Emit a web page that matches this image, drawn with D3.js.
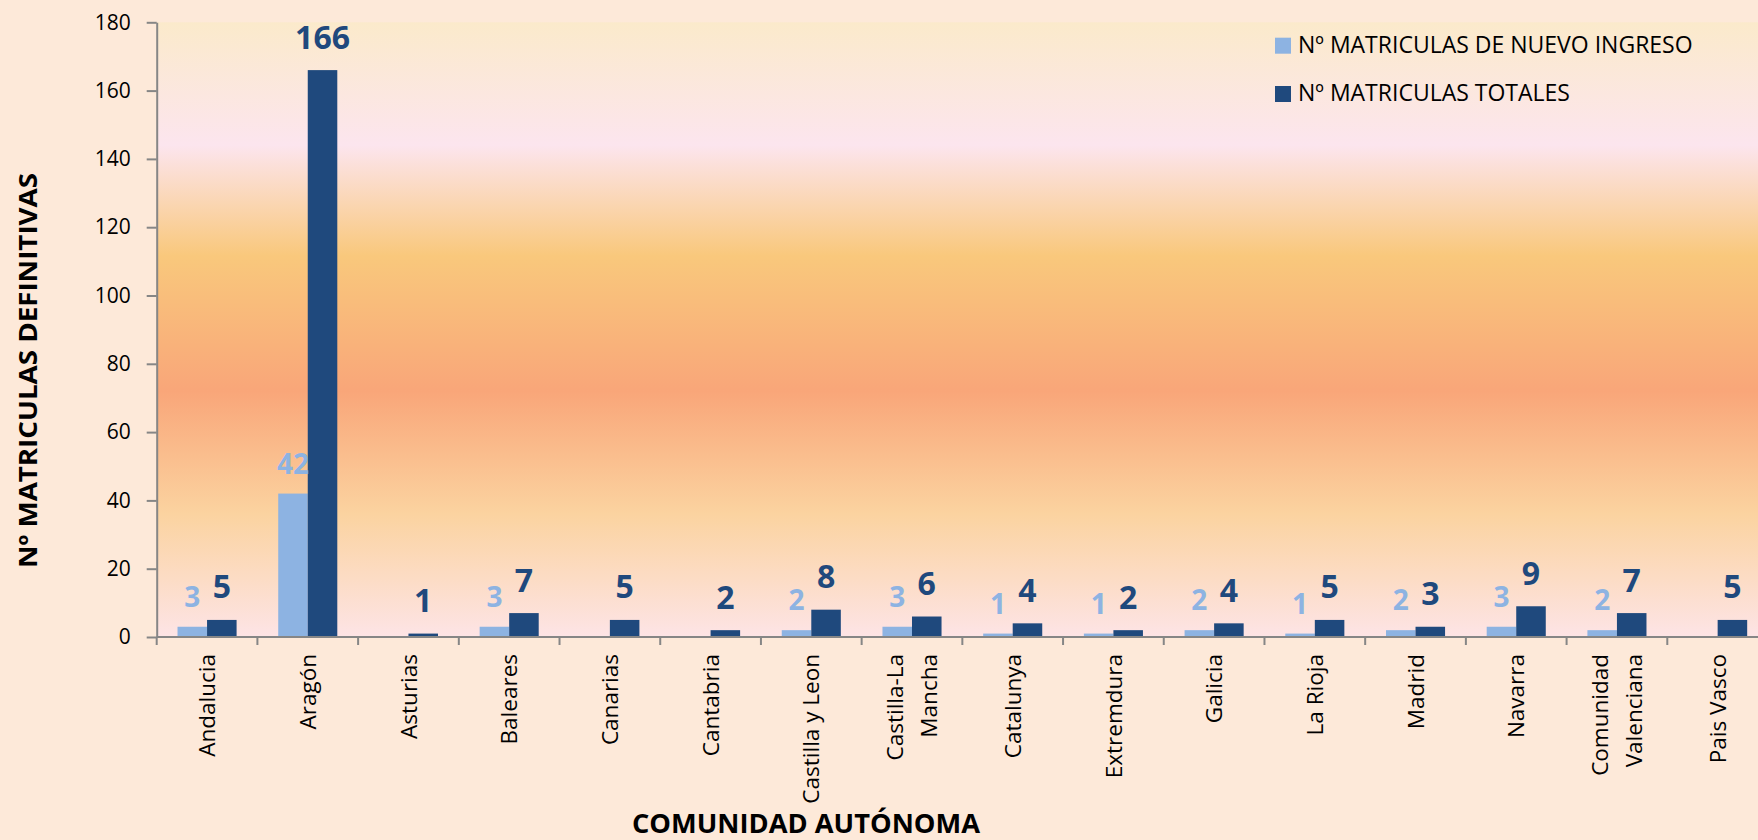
<!DOCTYPE html>
<html>
<head>
<meta charset="utf-8">
<script src="https://cdn.jsdelivr.net/npm/d3@7"></script>
<style>
  body { margin: 0; background: #fde9d9; }
  svg { display: block; font-family: "Open Sans", sans-serif; }
</style>
</head>
<body>
<script>
// Chart data
var regions = ["Andalucia", "Aragón", "Asturias", "Baleares", "Canarias", "Cantabria",
    "Castilla y Leon", "Castilla-La Mancha", "Catalunya", "Extremdura", "Galicia",
    "La Rioja", "Madrid", "Navarra", "Comunidad Valenciana", "Pais Vasco"];
// label lines (two-line labels wrap like in the original)
var regionLines = [["Andalucia"], ["Aragón"], ["Asturias"], ["Baleares"], ["Canarias"], ["Cantabria"],
    ["Castilla y Leon"], ["Castilla-La", "Mancha"], ["Catalunya"], ["Extremdura"], ["Galicia"],
    ["La Rioja"], ["Madrid"], ["Navarra"], ["Comunidad", "Valenciana"], ["Pais Vasco"]];
var nuevoIngreso = [3, 42, null, 3, null, null, 2, 3, 1, 1, 2, 1, 2, 3, 2, null];
var totales = [5, 166, 1, 7, 5, 2, 8, 6, 4, 2, 4, 5, 3, 9, 7, 5];
var seriesNames = ["Nº MATRICULAS DE NUEVO INGRESO", "Nº MATRICULAS TOTALES"];
var yTicks = [0, 20, 40, 60, 80, 100, 120, 140, 160, 180];

var W = 1758, H = 840;
var margin = { top: 22.3, left: 156.7, bottom: 203 };
var plotRight = 1768; // plot runs off the right edge in the original

var colLight = "#8db3e2", colDark = "#1f497d";

var svg = d3.select("body").append("svg")
    .attr("width", W)
    .attr("height", H);

// background gradient of plot area
var grad = svg.append("defs").append("linearGradient")
    .attr("id", "plotbg")
    .attr("x1", 0).attr("y1", 0).attr("x2", 0).attr("y2", 1);
[[0, "#fbeacb"], [0.2, "#fce5ee"], [0.38, "#f9c87c"], [0.6, "#f9a679"], [0.8, "#fbd3a0"], [1, "#fde4e6"]]
    .forEach(function(s) {
        grad.append("stop").attr("offset", s[0]).attr("stop-color", s[1]);
    });

var y = d3.scaleLinear()
    .domain([0, 180])
    .range([H - margin.bottom, margin.top]);

var x0 = d3.scaleBand()
    .domain(regions)
    .range([margin.left, plotRight]);

var x1 = d3.scaleBand()
    .domain([0, 1])
    .range([0, x0.bandwidth()])
    .paddingOuter(0.705);

svg.append("rect")
    .attr("x", margin.left)
    .attr("y", margin.top)
    .attr("width", plotRight - margin.left)
    .attr("height", y(0) - margin.top)
    .attr("fill", "url(#plotbg)");

// bars
var data = regions.map(function(r, i) {
    return { region: r, vals: [nuevoIngreso[i], totales[i]] };
});

var groups = svg.selectAll(".grp")
    .data(data)
    .enter().append("g")
    .attr("class", "grp")
    .attr("transform", function(d) { return "translate(" + x0(d.region) + ",0)"; });

groups.selectAll("rect")
    .data(function(d) { return d.vals.map(function(v, k) { return { k: k, v: v }; }); })
    .enter().filter(function(d) { return d.v != null; }).append("rect")
    .attr("x", function(d) { return x1(d.k); })
    .attr("y", function(d) { return y(d.v); })
    .attr("width", x1.bandwidth())
    .attr("height", function(d) { return y(0) - y(d.v); })
    .attr("fill", function(d) { return d.k == 0 ? colLight : colDark; });

// value labels
groups.selectAll("text")
    .data(function(d) { return d.vals.map(function(v, k) { return { k: k, v: v }; }); })
    .enter().filter(function(d) { return d.v != null; }).append("text")
    .attr("x", function(d) { return x1(d.k) + x1.bandwidth() / 2; })
    .attr("y", function(d) { return y(d.v) - (d.k == 0 ? 20 : 21.5); })
    .attr("text-anchor", "middle")
    .attr("font-weight", "bold")
    .attr("font-size", function(d) { return d.k == 0 ? "28px" : "32px"; })
    .attr("fill", function(d) { return d.k == 0 ? colLight : colDark; })
    .text(function(d) { return d.v; });

// Y axis
var yAxis = svg.append("g")
    .attr("transform", "translate(" + margin.left + ",0)")
    .call(d3.axisLeft(y).tickValues(yTicks).tickSize(10).tickSizeOuter(0).tickPadding(16));
yAxis.selectAll("text").attr("font-size", "21px").attr("font-family", "Open Sans").attr("fill", "#000");
yAxis.selectAll("line, path").attr("stroke", "#868686").attr("stroke-width", 2);

// X axis line and ticks at band edges
var xAxis = svg.append("g");
xAxis.append("line")
    .attr("x1", margin.left).attr("x2", plotRight)
    .attr("y1", y(0)).attr("y2", y(0))
    .attr("stroke", "#868686").attr("stroke-width", 2);
var edges = regions.map(function(r) { return x0(r); }).concat([x0.range()[1]]);
xAxis.selectAll(".tk")
    .data(edges)
    .enter().append("line")
    .attr("x1", function(d) { return d; }).attr("x2", function(d) { return d; })
    .attr("y1", y(0)).attr("y2", y(0) + 8)
    .attr("stroke", "#868686").attr("stroke-width", 2);

// category labels, rotated
regionLines.forEach(function(lines, i) {
    var cx = x0(regions[i]) + x0.bandwidth() / 2;
    var t = svg.append("text")
        .attr("transform", "translate(" + cx + "," + (y(0) + 17) + ") rotate(-90)")
        .attr("text-anchor", "end")
        .attr("font-size", "22.5px")
        .attr("fill", "#000");
    lines.forEach(function(l, j) {
        var off = (j - (lines.length - 1) / 2) * 33.5;
        t.append("tspan")
            .attr("x", 0)
            .attr("y", off)
            .attr("dy", "0.36em")
            .text(l);
    });
});

// axis titles
svg.append("text")
    .attr("x", 806)
    .attr("y", 833)
    .attr("text-anchor", "middle")
    .attr("font-weight", "bold")
    .attr("font-size", "26px")
    .attr("textLength", 348)
    .attr("lengthAdjust", "spacingAndGlyphs")
    .text("COMUNIDAD AUTÓNOMA");

svg.append("text")
    .attr("transform", "translate(37,370.5) rotate(-90)")
    .attr("text-anchor", "middle")
    .attr("font-weight", "bold")
    .attr("font-size", "25px")
    .attr("textLength", 395)
    .attr("lengthAdjust", "spacingAndGlyphs")
    .text("Nº MATRICULAS DEFINITIVAS");

// legend
var legend = svg.selectAll(".leg")
    .data(seriesNames)
    .enter().append("g")
    .attr("class", "leg")
    .attr("transform", function(d, i) { return "translate(1275," + (37.7 + i * 48.3) + ")"; });
legend.append("rect")
    .attr("width", 16).attr("height", 16)
    .attr("fill", function(d, i) { return i == 0 ? colLight : colDark; });
legend.append("text")
    .attr("x", 23)
    .attr("y", 15.3)
    .attr("font-size", "23px")
    .attr("fill", "#000")
    .text(function(d) { return d; });
</script>
</body>
</html>
